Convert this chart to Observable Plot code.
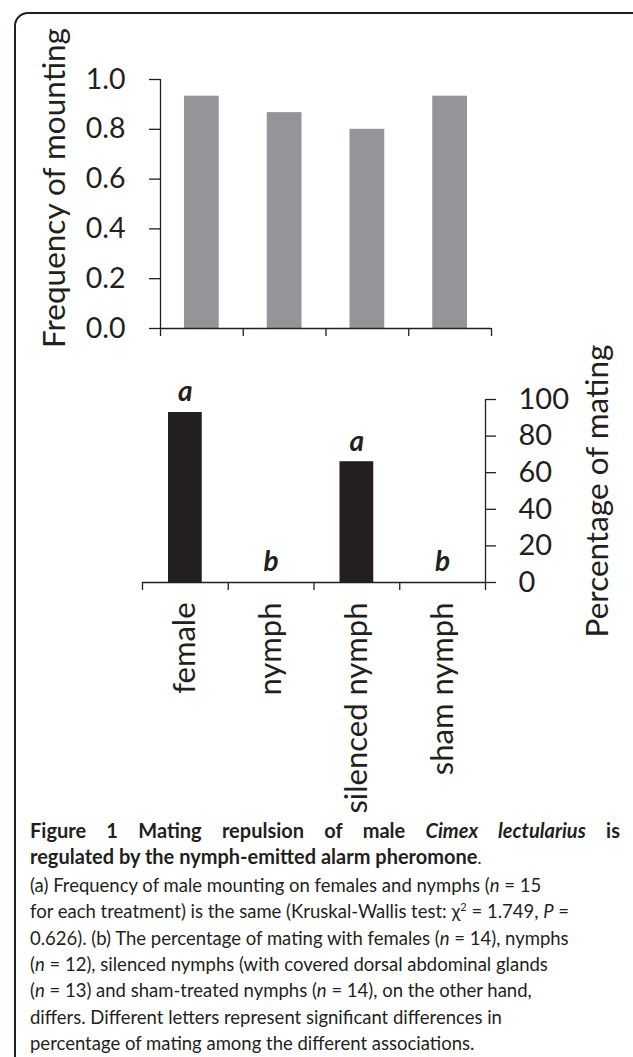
<!DOCTYPE html>
<html><head><meta charset="utf-8">
<script src="https://cdn.jsdelivr.net/npm/d3@7"></script>
<script src="https://cdn.jsdelivr.net/npm/@observablehq/plot@0.6"></script>
<style>
html,body{margin:0;padding:0;width:633px;height:1057px;overflow:hidden;background:#fff;}
#frame{position:absolute;left:14px;top:12px;width:680px;height:1120px;border:2px solid #231f20;border-radius:14px;box-sizing:border-box;}
.chart{position:absolute;left:0;}
#top{top:0px}
#bottom{top:345px}
#caption{position:absolute;left:30px;top:817px;width:590px;font-family:Lato,sans-serif;color:#231f20;line-height:26.4px;}
#caption .t1{text-align:justify;text-align-last:justify;font-size:20px;font-weight:bold;white-space:nowrap;}
#caption .t2{font-size:20px;font-weight:bold;white-space:nowrap;}
#caption .body{font-size:18.5px;white-space:nowrap;}
#caption sup{font-size:11px;line-height:0;vertical-align:7px;}
</style></head>
<body>
<div id="frame"></div>
<div id="top" class="chart"></div>
<div id="bottom" class="chart"></div>
<div id="caption">
<div class="t1">Figure 1 Mating repulsion of male <i>Cimex lectularius</i> is</div>
<div class="t2">regulated by the nymph-emitted alarm pheromone<span style="font-weight:normal;font-size:17px">.</span></div>
<div class="body">(a) Frequency of male mounting on females and nymphs (<i>n</i> = 15<br>for each treatment) is the same (Kruskal-Wallis test: χ<sup>2</sup> = 1.749, <i>P</i> =<br>0.626). (b) The percentage of mating with females (<i>n</i> = 14), nymphs<br>(<i>n</i> = 12), silenced nymphs (with covered dorsal abdominal glands<br>(<i>n</i> = 13) and sham-treated nymphs (<i>n</i> = 14), on the other hand,<br>differs. Different letters represent significant differences in<br>percentage of mating among the different associations.</div>
</div>
<script>
// ---- data ----
const categories = ["female", "nymph", "silenced nymph", "sham nymph"];
const mountingFreq = [0.933, 0.867, 0.8, 0.933];
const matingPct = [92.9, 0, 66.0, 0];
const letters = ["a", "b", "a", "b"];
const freqTicks = [0, 0.2, 0.4, 0.6, 0.8, 1.0];
const pctTicks = [0, 20, 40, 60, 80, 100];
const freqLabel = "Frequency of mounting";
const pctLabel = "Percentage of mating";

const ink = "#231f20";
const font = "Lato, sans-serif";

const topData = categories.map((c, i) => ({cat: c, v: mountingFreq[i]}));
const botData = categories.map((c, i) => ({cat: c, v: matingPct[i], letter: letters[i]}));

// ---- top chart ----
const W = 633;
const tL = 160, tR = 142;
const tStep = (W - tL - tR) / categories.length;
const topPlot = Plot.plot({
  width: W, height: 345,
  marginLeft: tL, marginRight: tR, marginTop: 79, marginBottom: 17,
  style: {fontFamily: font, color: ink, background: "transparent", overflow: "visible"},
  x: {domain: categories, padding: 0, round: false},
  y: {domain: [0, 1]},
  marks: [
    Plot.barY(topData, {x: "cat", y: "v", fill: "#939598", insetLeft: 24, insetRight: 24}),
    Plot.ruleY([0], {stroke: ink, strokeWidth: 1.3}),
    Plot.ruleX([categories[0]], {x: d => d, dx: -tStep / 2, stroke: ink, strokeWidth: 1.3}),
    Plot.axisY({ticks: freqTicks, tickFormat: d3.format(".1f"), tickSize: 11, tickPadding: 24, fontSize: 28.5, label: null, strokeWidth: 1.3}),
    Plot.axisX({ticks: categories, tickSize: 8, tickFormat: () => "", dx: -tStep / 2, label: null, strokeWidth: 1.3}),
    Plot.axisX({ticks: categories.slice(-1), tickSize: 8, tickFormat: () => "", dx: tStep / 2, label: null, strokeWidth: 1.3}),
    Plot.text([freqLabel], {text: d => d, frameAnchor: "left", textAnchor: "middle", rotate: -90, dx: -106, dy: -16, fontSize: 31.5, fill: ink})
  ]
});
document.getElementById("top").appendChild(topPlot);

// ---- bottom chart ----
const bL = 142, bR = 148;
const bStep = (W - bL - bR) / categories.length;
const botPlot = Plot.plot({
  width: W, height: 470,
  marginLeft: bL, marginRight: bR, marginTop: 54, marginBottom: 233,
  style: {fontFamily: font, color: ink, background: "transparent", overflow: "visible"},
  x: {domain: categories, padding: 0, round: false},
  y: {domain: [0, 100]},
  marks: [
    Plot.barY(botData, {x: "cat", y: "v", fill: ink, insetLeft: 26, insetRight: 26}),
    Plot.ruleY([0], {stroke: ink, strokeWidth: 1.3}),
    Plot.ruleX(categories.slice(-1), {x: d => d, dx: bStep / 2, stroke: ink, strokeWidth: 1.3}),
    Plot.axisY({anchor: "right", ticks: pctTicks, tickSize: 10, tickPadding: 23, fontSize: 29, label: null, strokeWidth: 1.3}),
    Plot.axisX({ticks: categories, tickSize: 8, tickFormat: () => "", dx: -bStep / 2, label: null, strokeWidth: 1.3}),
    Plot.axisX({ticks: categories.slice(-1), tickSize: 8, tickFormat: () => "", dx: bStep / 2, label: null, strokeWidth: 1.3}),
    Plot.axisX({ticks: categories, tickSize: 0, tickPadding: 20, tickRotate: -90, fontSize: 31, label: null}),
    Plot.text(botData, {x: "cat", y: "v", text: "letter", dy: -20, fontSize: 28, fontWeight: "bold", fontStyle: "italic", fill: ink}),
    Plot.text([pctLabel], {text: d => d, frameAnchor: "right", textAnchor: "middle", rotate: -90, dx: 112, fontSize: 31.5, fill: ink})
  ]
});
document.getElementById("bottom").appendChild(botPlot);
</script>
</body></html>
